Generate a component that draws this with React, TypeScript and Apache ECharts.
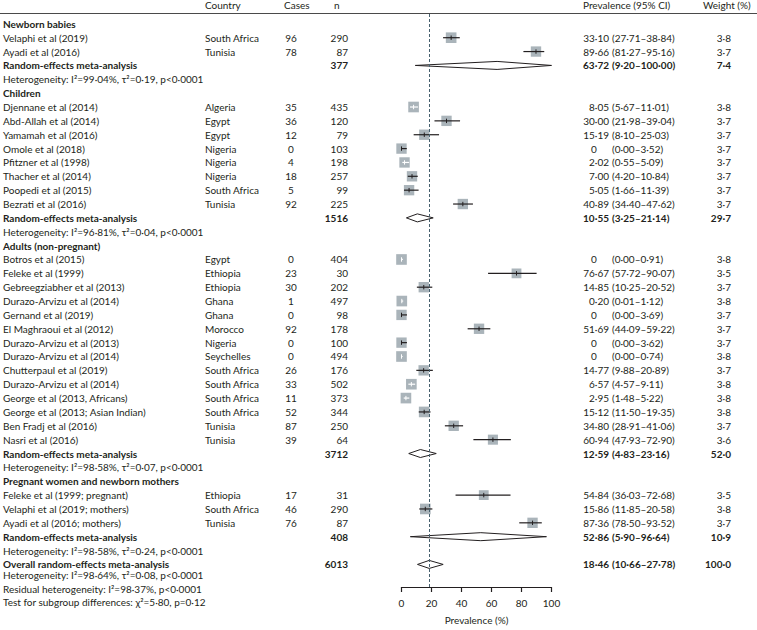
import React, { useEffect, useRef } from "react";
import * as echarts from "echarts";

// ---------- data ----------
const groupNames = [
  "Newborn babies",
  "Children",
  "Adults (non-pregnant)",
  "Pregnant women and newborn mothers",
];
const groupSizes = [2, 8, 14, 3];

const studyNames = [
  "Velaphi et al (2019)",
  "Ayadi et al (2016)",
  "Djennane et al (2014)",
  "Abd-Allah et al (2014)",
  "Yamamah et al (2016)",
  "Omole et al (2018)",
  "Pfitzner et al (1998)",
  "Thacher et al (2014)",
  "Poopedi et al (2015)",
  "Bezrati et al (2016)",
  "Botros et al (2015)",
  "Feleke et al (1999)",
  "Gebreegziabher et al (2013)",
  "Durazo-Arvizu et al (2014)",
  "Gernand et al (2019)",
  "El Maghraoui et al (2012)",
  "Durazo-Arvizu et al (2013)",
  "Durazo-Arvizu et al (2014)",
  "Chutterpaul et al (2019)",
  "Durazo-Arvizu et al (2014)",
  "George et al (2013, Africans)",
  "George et al (2013; Asian Indian)",
  "Ben Fradj et al (2016)",
  "Nasri et al (2016)",
  "Feleke et al (1999; pregnant)",
  "Velaphi et al (2019; mothers)",
  "Ayadi et al (2016; mothers)",
];
const countries = [
  "South Africa", "Tunisia",
  "Algeria", "Egypt", "Egypt", "Nigeria", "Nigeria", "Nigeria", "South Africa", "Tunisia",
  "Egypt", "Ethiopia", "Ethiopia", "Ghana", "Ghana", "Morocco", "Nigeria", "Seychelles",
  "South Africa", "South Africa", "South Africa", "South Africa", "Tunisia", "Tunisia",
  "Ethiopia", "South Africa", "Tunisia",
];
const cases = [96, 78, 35, 36, 12, 0, 4, 18, 5, 92, 0, 23, 30, 1, 0, 92, 0, 0, 26, 33, 11, 52, 87, 39, 17, 46, 76];
const totals = [290, 87, 435, 120, 79, 103, 198, 257, 99, 225, 404, 30, 202, 497, 98, 178, 100, 494, 176, 502, 373, 344, 250, 64, 31, 290, 87];
const estimates = [33.10, 89.66, 8.05, 30.00, 15.19, 0, 2.02, 7.00, 5.05, 40.89, 0, 76.67, 14.85, 0.20, 0, 51.69, 0, 0, 14.77, 6.57, 2.95, 15.12, 34.80, 60.94, 54.84, 15.86, 87.36];
const ciLow = [27.71, 81.27, 5.67, 21.98, 8.10, 0.00, 0.55, 4.20, 1.66, 34.40, 0.00, 57.72, 10.25, 0.01, 0.00, 44.09, 0.00, 0.00, 9.88, 4.57, 1.48, 11.50, 28.91, 47.93, 36.03, 11.85, 78.50];
const ciHigh = [38.84, 95.16, 11.01, 39.04, 25.03, 3.52, 5.09, 10.84, 11.39, 47.62, 0.91, 90.07, 20.52, 1.12, 3.69, 59.22, 3.62, 0.74, 20.89, 9.11, 5.22, 19.35, 41.06, 72.90, 72.68, 20.58, 93.52];
const weights = [3.8, 3.7, 3.8, 3.7, 3.7, 3.7, 3.7, 3.7, 3.7, 3.7, 3.8, 3.5, 3.7, 3.8, 3.7, 3.7, 3.7, 3.8, 3.7, 3.8, 3.8, 3.8, 3.7, 3.6, 3.5, 3.8, 3.7];

const summaryN = [377, 1516, 3712, 408];
const summaryEst = [63.72, 10.55, 12.59, 52.86];
const summaryLow = [9.20, 3.25, 4.83, 5.90];
const summaryHigh = [100.00, 21.14, 23.16, 96.64];
const summaryWeight = [7.4, 29.7, 52.0, 10.9];
const heterogeneity = [
  "Heterogeneity: I²=99·04%, τ²=0·19, p<0·0001",
  "Heterogeneity: I²=96·81%, τ²=0·04, p<0·0001",
  "Heterogeneity: I²=98·58%, τ²=0·07, p<0·0001",
  "Heterogeneity: I²=98·58%, τ²=0·24, p<0·0001",
];

const overallLabel = "Overall random-effects meta-analysis";
const overallN = 6013;
const overallEst = 18.46;
const overallLow = 10.66;
const overallHigh = 27.78;
const overallWeight = 100.0;
const footerNotes = [
  "Heterogeneity: I²=98·64%, τ²=0·08, p<0·0001",
  "Residual heterogeneity: I²=98·37%, p<0·0001",
  "Test for subgroup differences: χ²=5·80, p=0·12",
];

const headers = ["Country", "Cases", "n", "Prevalence (95% CI)", "Weight (%)"];
const xTickMin = 0;
const xTickMax = 100;
const xTickStep = 20;
const xAxisTitle = "Prevalence (%)";

// ---------- layout / style ----------
const W = 757;
const H = 630;
const INK = "#231f20";
const MARKER = "#aab4ba";
const REFLINE = "#46606e";
const FONT = "Lato";
const FS = 10;
const COL_LABEL = 3;
const COL_COUNTRY = 205;
const COL_CASES = 291;
const COL_N = 348;
const COL_EST = 609;
const COL_CI = 612;
const COL_ZERO = 591;
const COL_WEIGHT = 731;
const ROW_MIN = -0.71;
const ROW_MAX = 40.63;
const FOOTER_ROWS = [0.8, 1.75, 2.7];

const fmt2 = (v: number) => v.toFixed(2).replace(".", "·");
const fmt1 = (v: number) => v.toFixed(1).replace(".", "·");
const fmtEst = (v: number) => (v === 0 ? "0" : fmt2(v));

type Row = {
  kind: "group" | "study" | "summary" | "het" | "overall" | "note";
  row: number;
  label: string;
  country?: string;
  cases?: number;
  n?: number;
  est?: number;
  lo?: number;
  hi?: number;
  weight?: number;
};

function buildRows(): Row[] {
  const rows: Row[] = [];
  let r = 0;
  let s = 0;
  groupNames.forEach((g, gi) => {
    rows.push({ kind: "group", row: r++, label: g });
    for (let k = 0; k < groupSizes[gi]; k++, s++) {
      rows.push({
        kind: "study",
        row: r++,
        label: studyNames[s],
        country: countries[s],
        cases: cases[s],
        n: totals[s],
        est: estimates[s],
        lo: ciLow[s],
        hi: ciHigh[s],
        weight: weights[s],
      });
    }
    rows.push({
      kind: "summary",
      row: r++,
      label: "Random-effects meta-analysis",
      n: summaryN[gi],
      est: summaryEst[gi],
      lo: summaryLow[gi],
      hi: summaryHigh[gi],
      weight: summaryWeight[gi],
    });
    rows.push({ kind: "het", row: r++, label: heterogeneity[gi] });
  });
  const overallRow = r;
  rows.push({
    kind: "overall",
    row: overallRow,
    label: overallLabel,
    n: overallN,
    est: overallEst,
    lo: overallLow,
    hi: overallHigh,
    weight: overallWeight,
  });
  footerNotes.forEach((t, i) => {
    rows.push({ kind: "note", row: overallRow + FOOTER_ROWS[i], label: t });
  });
  return rows;
}

function txt(text: string, x: number, y: number, align: string, bold: boolean) {
  return {
    type: "text",
    style: {
      text,
      x,
      y,
      align,
      verticalAlign: "middle",
      fill: INK,
      font: `${bold ? "bold " : ""}${FS}px ${FONT}`,
    },
  };
}

export default function App() {
  const ref = useRef<HTMLDivElement>(null);

  useEffect(() => {
    if (!ref.current) return;
    const chart = echarts.init(ref.current, undefined, { renderer: "svg" });
    const rows = buildRows();
    const studyRows = rows.filter((r) => r.kind === "study");
    const diamondRows = rows.filter((r) => r.kind === "summary" || r.kind === "overall");

    const option: any = {
      animation: false,
      backgroundColor: "#ffffff",
      textStyle: { fontFamily: FONT },
      grid: { left: 401.5, right: W - 551.5, top: 14, bottom: H - 596, containLabel: false },
      xAxis: {
        type: "value",
        position: "bottom",
        min: xTickMin,
        max: xTickMax,
        interval: xTickStep,
        splitLine: { show: false },
        axisLine: { show: true, onZero: false, lineStyle: { color: INK, width: 1.2 } },
        axisTick: { show: true, length: 5, lineStyle: { color: INK, width: 1.2 } },
        axisLabel: { color: INK, fontSize: FS, fontFamily: FONT, margin: 11 },
        name: xAxisTitle,
        nameLocation: "middle",
        nameGap: 28,
        nameTextStyle: { color: INK, fontSize: FS, fontFamily: FONT },
      },
      yAxis: {
        type: "value",
        inverse: true,
        min: ROW_MIN,
        max: ROW_MAX,
        show: false,
        splitLine: { show: false },
      },
      graphic: [
        {
          type: "line",
          shape: { x1: 0, y1: 13.5, x2: W, y2: 13.5 },
          style: { stroke: "#4a4a4a", lineWidth: 1.2 },
          silent: true,
        },
        ...[
          [headers[0], COL_COUNTRY, "left"],
          [headers[1], 284, "left"],
          [headers[2], 334, "left"],
          [headers[3], 583, "left"],
          [headers[4], 703, "left"],
        ].map(([t, x, a]) => ({
          type: "text",
          silent: true,
          style: {
            text: t,
            x,
            y: 5,
            align: a,
            verticalAlign: "middle",
            fill: INK,
            font: `${FS}px ${FONT}`,
          },
        })),
      ],
      series: [
        {
          type: "custom",
          name: "studies",
          coordinateSystem: "cartesian2d",
          data: studyRows.map((r) => [r.est, r.row, r.lo, r.hi, r.weight]),
          encode: { x: 0, y: 1 },
          renderItem: (params: any, api: any) => {
            const est = api.value(0);
            const row = api.value(1);
            const c = api.coord([est, row]);
            const pl = api.coord([api.value(2), row])[0];
            const ph = api.coord([api.value(3), row])[0];
            const side = api.value(4) * 2.8;
            const inside = pl >= c[0] - side / 2 && ph <= c[0] + side / 2;
            const lc = inside ? "#ffffff" : INK;
            return {
              type: "group",
              children: [
                {
                  type: "rect",
                  shape: { x: c[0] - side / 2, y: c[1] - side / 2, width: side, height: side },
                  style: { fill: MARKER },
                },
                {
                  type: "line",
                  shape: { x1: pl, y1: c[1], x2: ph, y2: c[1] },
                  style: { stroke: lc, lineWidth: 1.2 },
                },
                {
                  type: "line",
                  shape: { x1: c[0], y1: c[1] - 2.2, x2: c[0], y2: c[1] + 2.2 },
                  style: { stroke: lc, lineWidth: 1 },
                },
              ],
            };
          },
          markLine: {
            silent: true,
            symbol: ["none", "none"],
            label: { show: false },
            lineStyle: { type: [3, 2], color: REFLINE, width: 1 },
            data: [{ xAxis: overallEst }],
          },
          z: 3,
        },
        {
          type: "custom",
          name: "diamonds",
          coordinateSystem: "cartesian2d",
          data: diamondRows.map((r) => [r.est, r.row, r.lo, r.hi]),
          encode: { x: 0, y: 1 },
          renderItem: (params: any, api: any) => {
            const row = api.value(1);
            const c = api.coord([api.value(0), row]);
            const pl = api.coord([api.value(2), row])[0];
            const ph = api.coord([api.value(3), row])[0];
            const h = 4;
            return {
              type: "polygon",
              shape: {
                points: [
                  [pl, c[1]],
                  [c[0], c[1] - h],
                  [ph, c[1]],
                  [c[0], c[1] + h],
                ],
              },
              style: { fill: "#ffffff", stroke: INK, lineWidth: 1 },
            };
          },
          z: 4,
        },
        {
          type: "custom",
          name: "table",
          coordinateSystem: "cartesian2d",
          data: rows.map((r) => [0, r.row]),
          encode: { x: 0, y: 1 },
          silent: true,
          renderItem: (params: any, api: any) => {
            const r = rows[params.dataIndex];
            const y = api.coord([0, api.value(1)])[1];
            const bold = r.kind === "group" || r.kind === "summary" || r.kind === "overall";
            const children: any[] = [txt(r.label, COL_LABEL, y, "left", bold)];
            if (r.kind === "study") {
              children.push(txt(r.country as string, COL_COUNTRY, y, "left", false));
              children.push(txt(String(r.cases), COL_CASES, y, "center", false));
            }
            if (r.kind === "study" || r.kind === "summary" || r.kind === "overall") {
              const b = r.kind !== "study";
              children.push(txt(String(r.n), COL_N, y, "right", b));
              const e = r.est as number;
              if (e === 0) children.push(txt(fmtEst(e), COL_ZERO, y, "left", b));
              else children.push(txt(fmtEst(e), COL_EST, y, "right", b));
              children.push(txt(`(${fmt2(r.lo as number)}–${fmt2(r.hi as number)})`, COL_CI, y, "left", b));
              children.push(txt(fmt1(r.weight as number), COL_WEIGHT, y, "right", b));
            }
            return { type: "group", children };
          },
          z: 5,
        },
      ],
    };
    chart.setOption(option);
    return () => chart.dispose();
  }, []);

  return (
    <div
      ref={ref}
      style={{ position: "fixed", left: 0, top: 0, width: W, height: H, background: "#fff" }}
    />
  );
}
